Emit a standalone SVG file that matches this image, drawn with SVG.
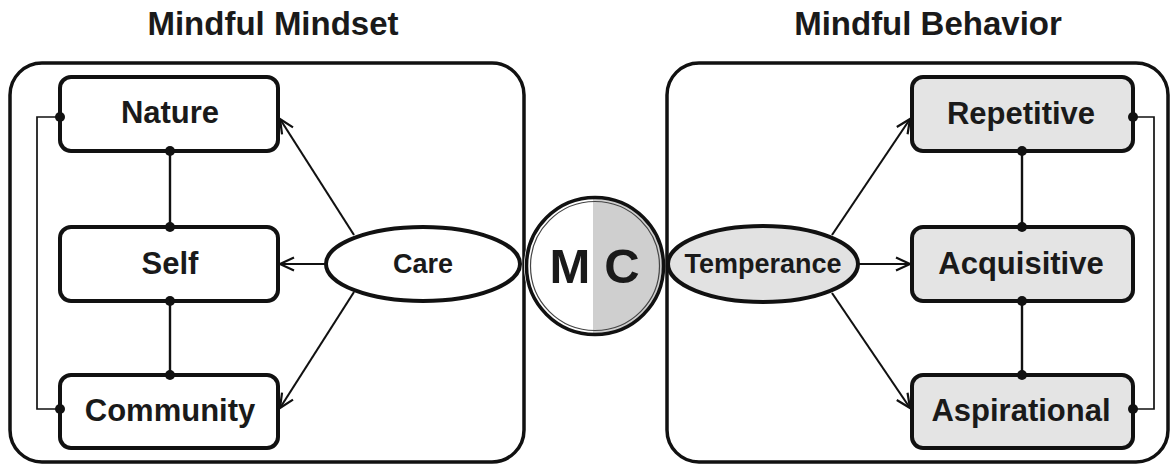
<svg xmlns="http://www.w3.org/2000/svg" width="1172" height="467" viewBox="0 0 1172 467">
<defs>
<style>
text{font-family:"Liberation Sans",Arial,sans-serif;font-weight:bold;fill:#1a1a1a;text-anchor:middle}
.title{font-size:33px}
.lbl{font-size:31px}
.panel{fill:none;stroke:#111;stroke-width:3.5}
.box{fill:#fff;stroke:#111;stroke-width:4}
.gbox{fill:#e4e4e4;stroke:#111;stroke-width:4}
.link{fill:none;stroke:#111;stroke-width:2.4}
.brk{fill:none;stroke:#111;stroke-width:1.7}
.arr{fill:none;stroke:#111;stroke-width:2.1;marker-end:url(#ah)}
.dot{fill:#111}
</style>
<marker id="ah" viewBox="0 0 16 16" refX="15" refY="8" markerWidth="16" markerHeight="16" markerUnits="userSpaceOnUse" orient="auto">
<path d="M1,1.5 L15,8 L1,14.5" fill="none" stroke="#111" stroke-width="2.2"/>
</marker>
</defs>

<text class="title" x="273" y="35">Mindful Mindset</text>
<text class="title" x="928" y="35">Mindful Behavior</text>

<g id="panel-left"><rect class="panel" x="10" y="63" width="514" height="399" rx="32"/></g>
<g id="panel-right"><rect class="panel" x="667" y="63" width="501" height="399" rx="32"/></g>

<g id="connectors">
<line class="link" x1="170" y1="151" x2="170" y2="227"/>
<line class="link" x1="170" y1="301" x2="170" y2="375"/>
<polyline class="brk" points="60,117 37,117 37,409 60,409"/>
<line class="link" x1="1022" y1="151" x2="1022" y2="227"/>
<line class="link" x1="1022" y1="301" x2="1022" y2="375"/>
<polyline class="brk" points="1133,117 1154,117 1154,409 1133,409"/>
<line class="arr" x1="354" y1="235" x2="280" y2="119"/>
<line class="arr" x1="326" y1="264" x2="280" y2="264"/>
<line class="arr" x1="354" y1="292" x2="280" y2="408"/>
<line class="arr" x1="832" y1="235" x2="910" y2="119"/>
<line class="arr" x1="858" y1="264" x2="910" y2="264"/>
<line class="arr" x1="832" y1="293" x2="910" y2="408"/>
</g>

<g id="nature"><rect class="box" x="60" y="77" width="218" height="74" rx="11"/><text class="lbl" x="170" y="123">Nature</text></g>
<g id="self"><rect class="box" x="60" y="227" width="218" height="74" rx="11"/><text class="lbl" x="170" y="274">Self</text></g>
<g id="community"><rect class="box" x="60" y="375" width="218" height="73" rx="11"/><text class="lbl" x="170" y="421">Community</text></g>

<g id="repetitive"><rect class="gbox" x="912" y="77" width="221" height="74" rx="11"/><text class="lbl" x="1021" y="124">Repetitive</text></g>
<g id="acquisitive"><rect class="gbox" x="912" y="227" width="221" height="74" rx="11"/><text class="lbl" x="1021" y="274">Acquisitive</text></g>
<g id="aspirational"><rect class="gbox" x="912" y="375" width="221" height="73" rx="11"/><text class="lbl" x="1021" y="421">Aspirational</text></g>

<g id="connector-dots">
<circle class="dot" cx="170" cy="151" r="5"/>
<circle class="dot" cx="170" cy="227" r="5"/>
<circle class="dot" cx="170" cy="301" r="5"/>
<circle class="dot" cx="170" cy="375" r="5"/>
<circle class="dot" cx="60" cy="117" r="5"/>
<circle class="dot" cx="60" cy="409" r="5"/>
<circle class="dot" cx="1022" cy="151" r="5"/>
<circle class="dot" cx="1022" cy="227" r="5"/>
<circle class="dot" cx="1022" cy="301" r="5"/>
<circle class="dot" cx="1022" cy="375" r="5"/>
<circle class="dot" cx="1133" cy="117" r="5"/>
<circle class="dot" cx="1133" cy="409" r="5"/>
</g>

<g id="care"><ellipse cx="423" cy="264" rx="97" ry="37" fill="#fff" stroke="#111" stroke-width="4"/><text x="423" y="273" style="font-size:27px">Care</text></g>
<g id="temperance"><ellipse cx="763" cy="264" rx="95" ry="38" fill="#e2e2e2" stroke="#111" stroke-width="4"/><text x="763" y="273" style="font-size:27px">Temperance</text></g>

<g id="mc">
<path d="M593,197 A69,69 0 0,1 593,335 Z" fill="#cfcfcf"/>
<path d="M593,197 A69,69 0 0,0 593,335 Z" fill="#fff"/>
<circle cx="595" cy="266" r="64.5" fill="none" stroke="#444" stroke-width="1.2"/>
<circle cx="595" cy="266" r="68.5" fill="none" stroke="#111" stroke-width="3.5"/>
<text x="570" y="283" style="font-size:49px">M</text>
<text x="622" y="283" style="font-size:49px">C</text>
</g>
</svg>
